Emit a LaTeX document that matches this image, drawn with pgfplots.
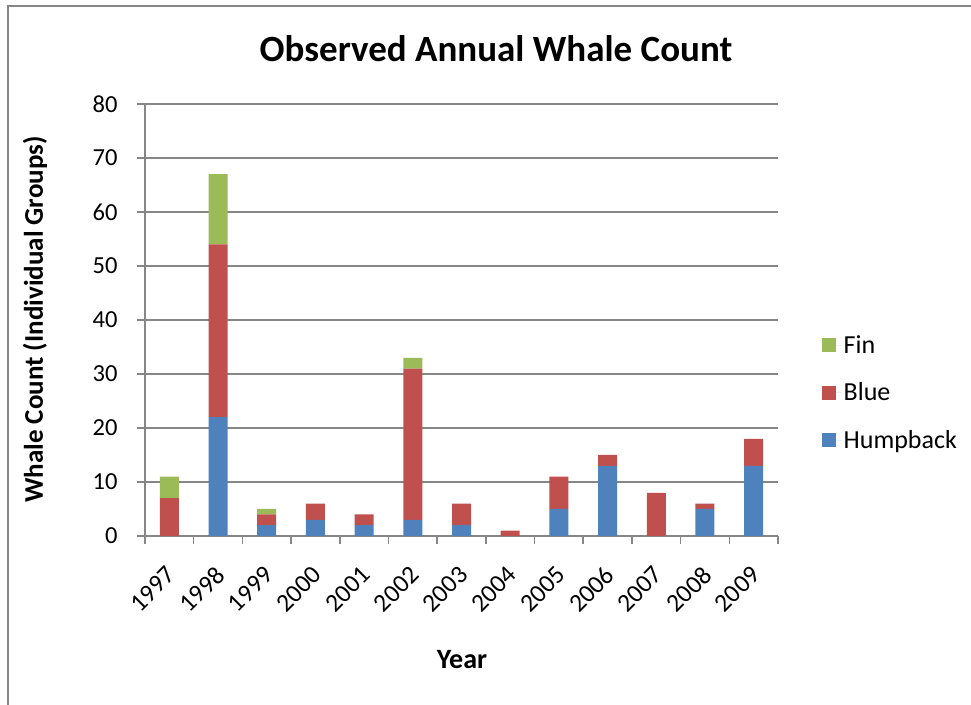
\documentclass[border=0pt]{standalone}
\usepackage{pgfplots}
\pgfplotsset{compat=1.18}
\usepackage{fontspec}
\setmainfont{Carlito}
\definecolor{hump}{RGB}{79,129,189}
\definecolor{bluew}{RGB}{192,80,77}
\definecolor{fin}{RGB}{155,187,89}
\definecolor{gridgray}{RGB}{134,134,134}
\begin{document}
\begin{tikzpicture}[x=1pt,y=1pt]
\useasboundingbox (0,0) rectangle (971,704);
\fill[white] (0,0) rectangle (971,704);
\draw[gridgray, line width=2pt] (7.5,-5) -- (7.5,698) -- (980,698);
\begin{axis}[
  at={(145pt,168pt)}, anchor=south west,
  scale only axis, width=633pt, height=432pt,
  xmin=-0.5, xmax=12.5, ymin=0, ymax=80,
  ybar stacked, bar width=0.39,
  axis x line*=bottom, axis y line*=left,
  axis line style={-, gridgray, line width=1.5pt},
  /pgf/number format/assume math mode=true,
  ticklabel style={font=\fontsize{24.5}{29}\selectfont},
  tick style={gridgray, line width=1.5pt},
  tick align=outside,
  major tick length=8pt,
  ytick={0,10,...,80},
  ymajorgrids, grid style={gridgray, line width=1.3pt},
  xtick={-0.5,0.5,...,12.5}, xticklabels={},
  extra x ticks={0,1,...,12},
  extra x tick labels={1997,1998,1999,2000,2001,2002,2003,2004,2005,2006,2007,2008,2009},
  extra x tick style={major tick length=0pt, grid=none,
     xticklabel style={font=\fontsize{25.5}{30}\selectfont, xshift=-4pt, yshift=-24pt, rotate=45, anchor=north east}},
  yticklabel style={xshift=-16pt},
  legend image code/.code={\fill[#1] (0pt,-7pt) rectangle (14pt,7pt); \path (0pt,0pt) -- (20pt,0pt);},
  reverse legend,
  legend style={draw=none, at={(1.064,0.474)}, anchor=north west,
     font=\fontsize{26}{31}\selectfont, row sep=24pt},
  legend cell align=left,
]
\addplot[fill=hump, draw=none] coordinates {(0,0) (1,22) (2,2) (3,3) (4,2) (5,3) (6,2) (7,0) (8,5) (9,13) (10,0) (11,5) (12,13)};
\addlegendentry{Humpback}
\addplot[fill=bluew, draw=none] coordinates {(0,7) (1,32) (2,2) (3,3) (4,2) (5,28) (6,4) (7,1) (8,6) (9,2) (10,8) (11,1) (12,5)};
\addlegendentry{Blue}
\addplot[fill=fin, draw=none] coordinates {(0,4) (1,13) (2,1) (3,0) (4,0) (5,2) (6,0) (7,0) (8,0) (9,0) (10,0) (11,0) (12,0)};
\addlegendentry{Fin}
\end{axis}
\node[anchor=base, font=\bfseries\fontsize{37}{42}\selectfont] at (496,642) {Observed Annual Whale Count};
\node[rotate=90, font=\bfseries\fontsize{27}{32}\selectfont] at (35,384.5) {Whale Count (Individual Groups)};
\node[anchor=base, font=\bfseries\fontsize{28}{33}\selectfont] at (462,36) {Year};
\end{tikzpicture}
\end{document}
